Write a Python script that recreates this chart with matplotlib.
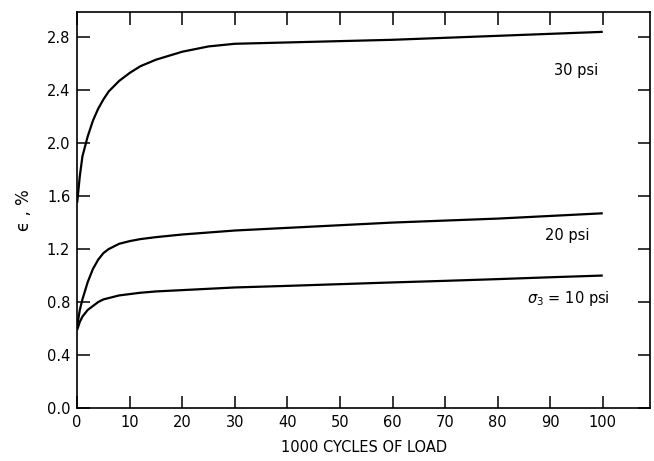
import matplotlib
matplotlib.use("Agg")
import matplotlib.pyplot as plt

# 1000 cycles of load
cycles = [0, 0.5, 1, 2, 3, 4, 5, 6, 8, 10, 12, 15, 20, 25, 30, 40, 50, 60, 70, 80, 90, 100]

# strain (%) for each confining pressure
eps_30 = [1.55, 1.75, 1.90, 2.05, 2.17, 2.26, 2.33, 2.39, 2.47, 2.53, 2.58, 2.63, 2.69, 2.73,
          2.75, 2.76, 2.77, 2.78, 2.795, 2.81, 2.825, 2.84]
eps_20 = [0.62, 0.74, 0.82, 0.95, 1.05, 1.12, 1.17, 1.20, 1.24, 1.26, 1.275, 1.29, 1.31, 1.325,
          1.34, 1.36, 1.38, 1.40, 1.415, 1.43, 1.45, 1.47]
eps_10 = [0.59, 0.65, 0.69, 0.74, 0.77, 0.80, 0.82, 0.83, 0.85, 0.86, 0.87, 0.88, 0.89, 0.90,
          0.91, 0.922, 0.935, 0.948, 0.96, 0.973, 0.987, 1.00]

x_ticks = [0, 10, 20, 30, 40, 50, 60, 70, 80, 90, 100]
y_ticks = [0.0, 0.4, 0.8, 1.2, 1.6, 2.0, 2.4, 2.8]

fig = plt.figure(figsize=(6.54, 4.61), dpi=100)
ax = fig.add_axes([0.118, 0.115, 0.876, 0.859])

for eps in (eps_30, eps_20, eps_10):
    ax.plot(cycles, eps, color="black", linewidth=1.6, solid_capstyle="butt")

ax.set_xlim(0, 109)
ax.set_ylim(0, 2.99)
ax.set_xticks(x_ticks)
ax.set_yticks(y_ticks)
ax.set_yticklabels(["%.1f" % v for v in y_ticks])

ax.tick_params(direction="in", length=9, width=1.1, top=True, right=True,
               labelsize=10.5, pad=5)
for s in ax.spines.values():
    s.set_linewidth(1.2)

# curve labels
ax.text(95, 2.55, "30 psi", fontsize=10.5, ha="center", va="center")
ax.text(93.3, 1.30, "20 psi", fontsize=10.5, ha="center", va="center")
ax.text(93.5, 0.83, r"$\sigma_3$ = 10 psi", fontsize=10.5, ha="center", va="center")

ax.set_xlabel("1000 CYCLES OF LOAD", fontsize=10.5, labelpad=7)
ax.set_ylabel("ϵ , %", fontsize=12, labelpad=10)

fig.savefig("out.png", dpi=100)
